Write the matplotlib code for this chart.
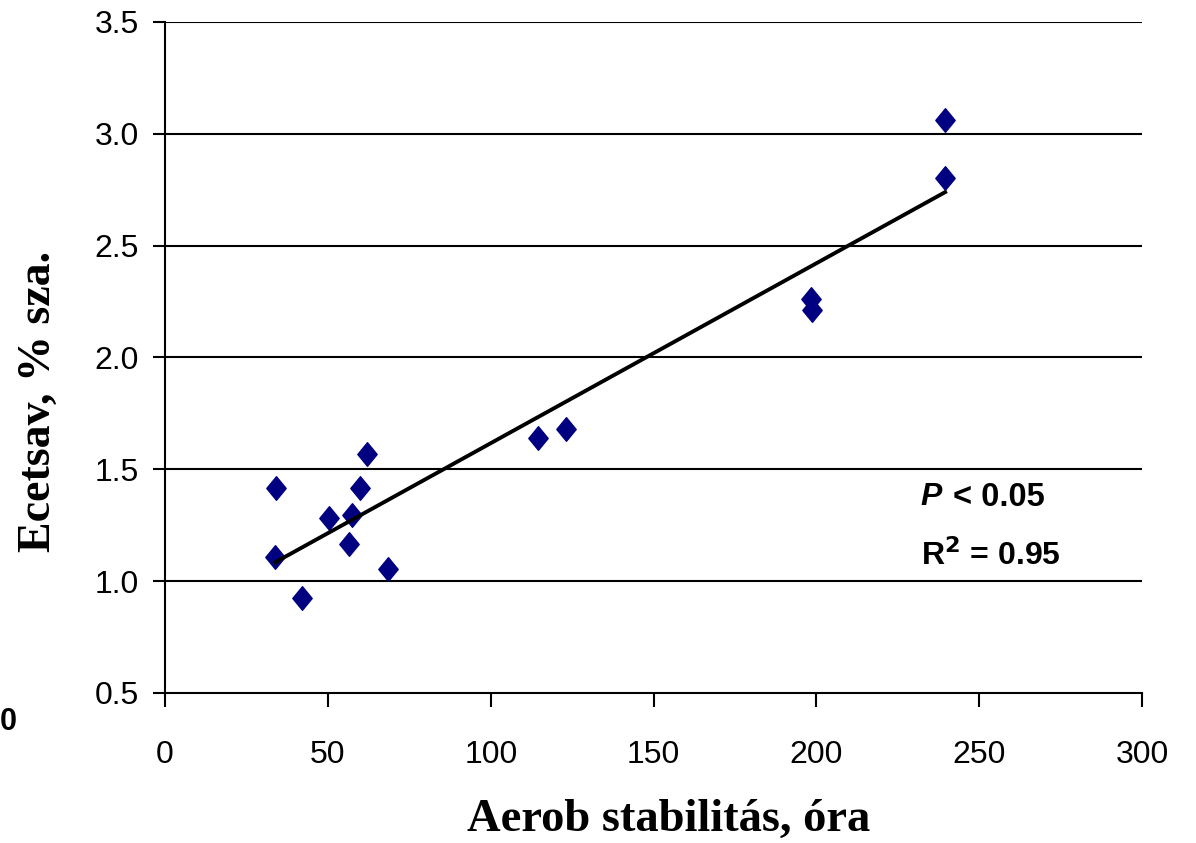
import numpy as np
import matplotlib
matplotlib.use("Agg")
import matplotlib.pyplot as plt
from matplotlib.path import Path

# data
aerob = [34.1, 33.8, 42.1, 50.4, 57.4, 56.5, 59.9, 62.0, 68.5, 114.5, 123.1, 198.3, 198.7, 239.5, 239.5]
ecetsav = [1.416, 1.108, 0.925, 1.28, 1.296, 1.166, 1.416, 1.568, 1.054, 1.64, 1.68, 2.26, 2.21, 2.80, 3.06]
x_ticks = [0, 50, 100, 150, 200, 250, 300]
y_ticks = [0.5, 1.0, 1.5, 2.0, 2.5, 3.0, 3.5]

x = np.array(aerob)
y = np.array(ecetsav)

fig = plt.figure(figsize=(11.96, 8.43), dpi=100)
ax = fig.add_axes([0.138, 0.178, 0.817, 0.796])

ax.set_xlim(0, 300)
ax.set_ylim(0.5, 3.5)

for yt in y_ticks[1:]:
    ax.axhline(yt, color='black', lw=1.5, zorder=1)

diamond = Path([(0, 1), (0.82, 0), (0, -1), (-0.82, 0), (0, 1)],
               [Path.MOVETO, Path.LINETO, Path.LINETO, Path.LINETO, Path.CLOSEPOLY])
ax.plot(x, y, linestyle='none', marker=diamond, markersize=17,
        color='#000080', zorder=3)

coef = np.polyfit(x, y, 1)
xs = np.sort(x)
ax.plot(xs, np.polyval(coef, xs), color='black', lw=2.8, zorder=4)

for s in ['top', 'right']:
    ax.spines[s].set_visible(False)
for s in ['left', 'bottom']:
    ax.spines[s].set_linewidth(1.5)

ax.set_xticks(x_ticks)
ax.set_yticks(y_ticks)
ax.set_xticklabels([str(t) for t in x_ticks])
ax.set_yticklabels([f"{t:.1f}" for t in y_ticks])
ax.tick_params(axis='x', direction='out', length=10, width=1.5,
               labelsize=23, pad=24)
ax.tick_params(axis='y', direction='out', length=9, width=1.5,
               labelsize=23, pad=10)
for lab in ax.get_xticklabels() + ax.get_yticklabels():
    lab.set_fontfamily('Liberation Sans')

ax.set_xlabel('Aerob stabilitás, óra', fontfamily='Liberation Serif',
              fontweight='bold', fontsize=33.5, va='center', ha='center')
ax.xaxis.set_label_coords(0.515, -0.189)
ax.set_ylabel('Ecetsav, % sza.', fontfamily='Liberation Serif',
              fontweight='bold', fontsize=33, va='center', ha='center')
ax.yaxis.set_label_coords(-0.129, 0.434)

ax.text(0.784, 0.292, 'P', transform=ax.transAxes,
        fontfamily='Liberation Sans', fontweight='bold', fontstyle='italic',
        fontsize=23, ha='center', va='center')
ax.text(0.806, 0.292, '< 0.05', transform=ax.transAxes,
        fontfamily='Liberation Sans', fontweight='bold',
        fontsize=23.5, ha='left', va='center')
ax.text(0.845, 0.204, r'R$^{\mathbf{2}}$ = 0.95', transform=ax.transAxes,
        fontfamily='Liberation Sans', fontweight='bold',
        fontsize=23, ha='center', va='center')

fig.text(0.0, 1 - 722 / 843, '0', fontfamily='Liberation Sans',
         fontweight='bold', fontsize=22, ha='left', va='center')

fig.savefig('out.png', dpi=100)
